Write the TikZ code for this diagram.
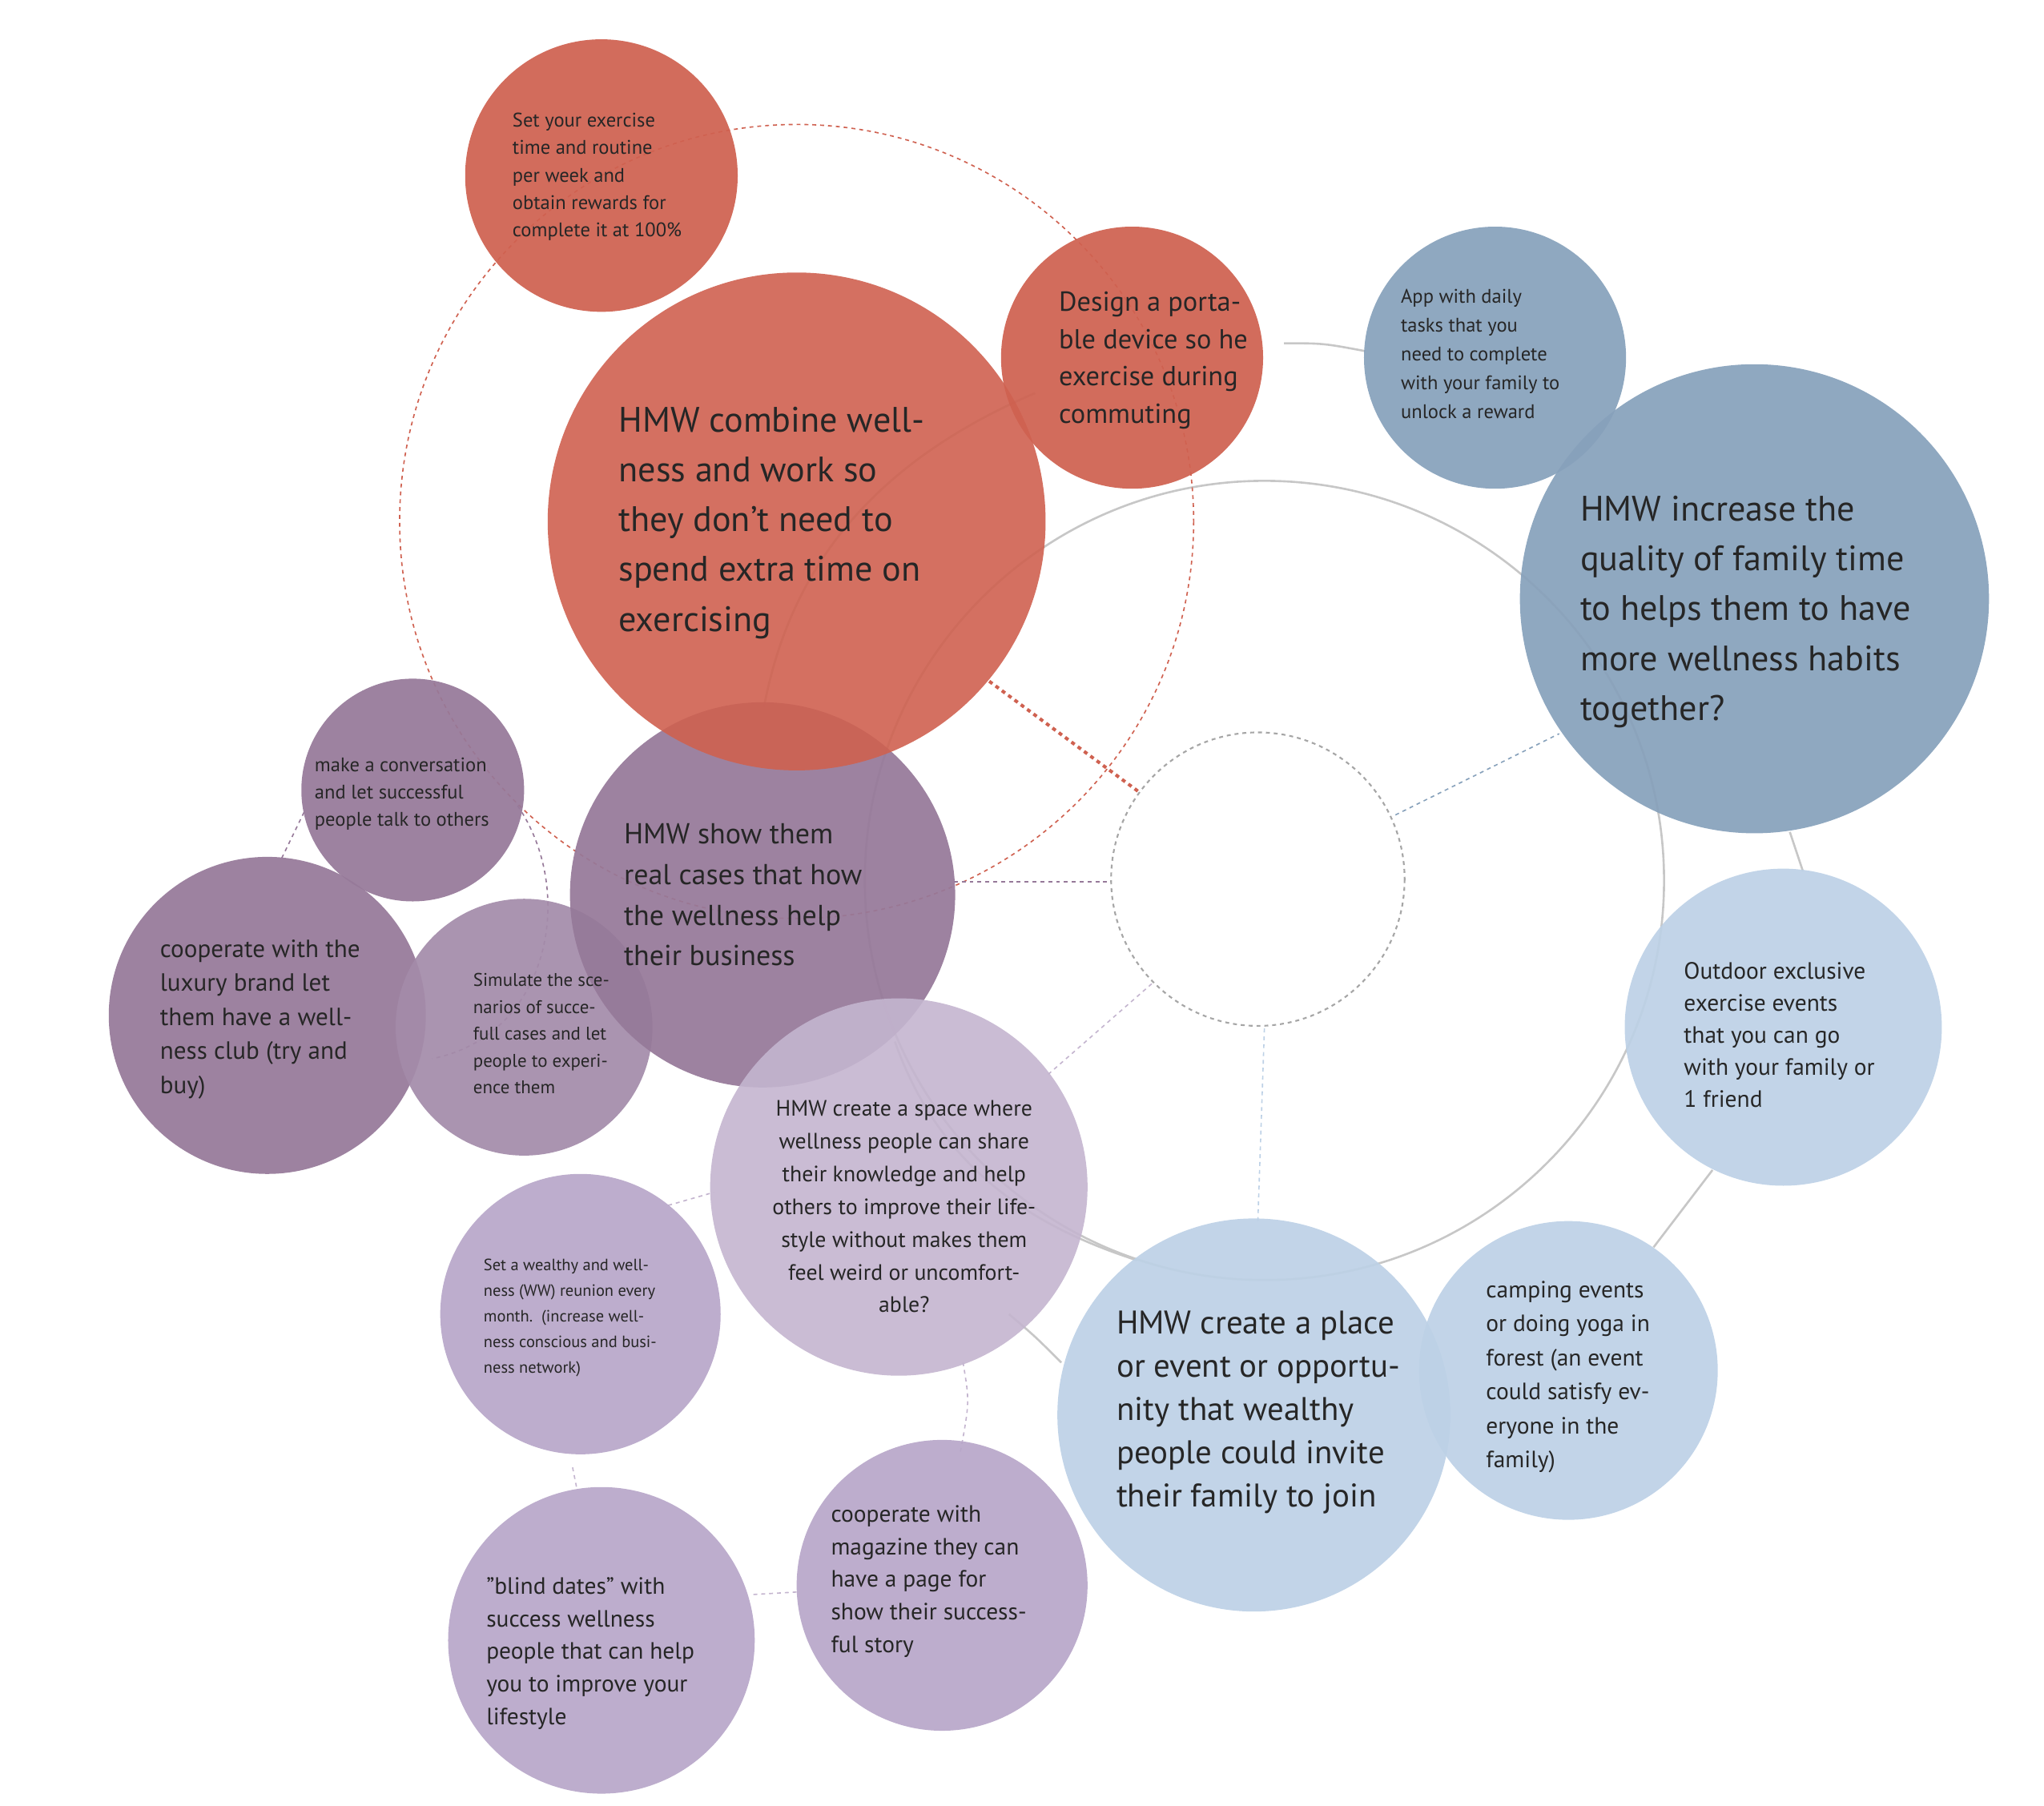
\documentclass[tikz,border=0pt]{standalone}
\usepackage{fontspec}
\setmainfont{PT Sans}
\definecolor{cred}{HTML}{CF6150}
\definecolor{cblue}{HTML}{87A1BB}
\definecolor{clblue}{HTML}{BDD1E6}
\definecolor{cpurp}{HTML}{967999}
\definecolor{csim}{HTML}{A48CAA}
\definecolor{clpurp}{HTML}{C4B5CF}
\definecolor{cwpurp}{HTML}{B8A7C9}
\begin{document}
\begin{tikzpicture}[x=1pt,y=-1pt,
  bub/.style={circle,inner sep=0pt,fill opacity=0.93,draw=none},
  txt/.style={anchor=west,align=left,inner sep=0pt,text=black!85},
  orb/.style={draw=black!22,line width=1.6pt},
  rdash/.style={draw=cred,dashed,line width=1pt},
  gdash/.style={draw=black!35,dashed,line width=1pt}]
\useasboundingbox (0,0) rectangle (1560,1378);
% orbits
\draw[orb] (965,672) circle (305);
\draw[orb] (980,262) .. controls (1010,262) .. (1042,268);
\draw[orb] (1366,635) -- (1376,665);
\draw[orb] (1307,893) -- (1262,952);
\draw[orb] (683,795) .. controls (720,900) and (800,940) .. (868,962);
\draw[orb] (770,1003) .. controls (790,1020) .. (810,1040);
\draw[orb] (790,300) .. controls (650,360) and (600,450) .. (583,540);
\draw[rdash] (608,398) circle (303);
% dashed connectors
\coordinate (cc) at (960,671);
\draw[draw=cred,dashed,line width=2.5pt] (755,520) -- (870,605);
\draw[gdash,draw=cblue] (1065,622) -- (1190,560);
\draw[gdash,draw=cpurp] (728,673) -- (848,673);
\draw[gdash,draw=clpurp] (800,820) -- (880,750);
\draw[gdash,draw=clblue] (965,785) -- (960,932);
\draw[gdash,draw=cpurp] (215,655) -- (232,620);
\draw[gdash,draw=cpurp] (395,615) .. controls (440,680) and (420,790) .. (330,808);
\draw[gdash,draw=clpurp] (510,920) -- (545,910);
\draw[gdash,draw=clpurp] (437,1120) -- (440,1135);
\draw[gdash,draw=clpurp] (575,1217) -- (610,1215);
\draw[gdash,draw=clpurp] (733,1108) .. controls (740,1070) .. (735,1040);
\draw[draw=black!35,dashed,line width=1.3pt] (cc) circle (112);
% circles
\node[bub,fill=cred,minimum size=208] (top) at (459,134) {};
\node[bub,fill=cred,minimum size=200] (des) at (864,273) {};
\node[bub,fill=cblue,minimum size=200] (app) at (1141,273) {};
\node[bub,fill=cblue,minimum size=358] (inc) at (1339,457) {};
\node[bub,fill=clblue,minimum size=242] (out) at (1361,784) {};
\node[bub,fill=clblue,minimum size=228] (camp) at (1197,1046) {};
\node[bub,fill=clblue,minimum size=300] (place) at (957,1080) {};
\node[bub,fill=cpurp,minimum size=170] (conv) at (315,603) {};
\node[bub,fill=cpurp,minimum size=242] (lux) at (204,775) {};
\node[bub,fill=csim,minimum size=196] (sim) at (400,784) {};
\node[bub,fill=cpurp,minimum size=294] (show) at (582,683) {};
\node[bub,fill=cred,minimum size=380,fill opacity=0.9] (main) at (608,398) {};
\node[bub,fill=clpurp,minimum size=288,fill opacity=0.9] (space) at (686,906) {};
\node[bub,fill=cwpurp,minimum size=214] (ww) at (443,1003) {};
\node[bub,fill=cwpurp,minimum size=234] (blind) at (459,1252) {};
\node[bub,fill=cwpurp,minimum size=222] (mag) at (719,1210) {};
% texts
\node[txt,font=\fontsize{15}{21}\selectfont] (ttop) at (391,135) {Set your exercise\\time and routine\\per week and\\obtain rewards for\\complete it at 100\%};
\node[txt,font=\fontsize{27}{38}\selectfont] (tmain) at (472,399) {HMW combine well-\\ness and work so\\they don't need to\\spend extra time on\\exercising};
\node[txt,font=\fontsize{21}{28.5}\selectfont] (tdes) at (808,275) {Design a porta-\\ble device so he\\exercise during\\commuting};
\node[txt,font=\fontsize{15}{22}\selectfont] (tapp) at (1069,270) {App with daily\\tasks that you\\need to complete\\with your family to\\unlock a reward};
\node[txt,font=\fontsize{27}{38}\selectfont] (tinc) at (1206,467) {HMW increase the\\quality of family time\\to helps them to have\\more wellness habits\\together?};
\node[txt,font=\fontsize{18}{24.5}\selectfont] (tout) at (1285,790) {Outdoor exclusive\\exercise events\\that you can go\\with your family or\\1 friend};
\node[txt,font=\fontsize{18}{26}\selectfont] (tcamp) at (1134,1051) {camping events\\or doing yoga in\\forest (an event\\could satisfy ev-\\eryone in the\\family)};
\node[txt,font=\fontsize{25}{33}\selectfont] (tplace) at (852,1078) {HMW create a place\\or event or opportu-\\nity that wealthy\\people could invite\\their family to join};
\node[txt,font=\fontsize{22}{31}\selectfont] (tshow) at (476,683) {HMW show them\\real cases that how\\the wellness help\\their business};
\node[txt,font=\fontsize{15}{21}\selectfont] (tconv) at (240,606) {make a conversation\\and let successful\\people talk to others};
\node[txt,font=\fontsize{19}{26}\selectfont] (tlux) at (122,778) {cooperate with the\\luxury brand let\\them have a well-\\ness club (try and\\buy)};
\node[txt,font=\fontsize{14}{20.5}\selectfont] (tsim) at (361,789) {Simulate the sce-\\narios of succe-\\full cases and let\\people to experi-\\ence them};
\node[inner sep=0pt,align=center,text=black!85,font=\fontsize{17}{25}\selectfont] (tspace) at (690,921) {HMW create a space where\\wellness people can share\\their knowledge and help\\others to improve their life-\\style without makes them\\feel weird or uncomfort-\\able?};
\node[txt,font=\fontsize{12.5}{19.5}\selectfont] (tww) at (369,1006) {Set a wealthy and well-\\ness (WW) reunion every\\month.\ \ (increase well-\\ness conscious and busi-\\ness network)};
\node[txt,font=\fontsize{18}{25}\selectfont] (tblind) at (371,1262) {"blind dates" with\\success wellness\\people that can help\\you to improve your\\lifestyle};
\node[txt,font=\fontsize{18}{25}\selectfont] (tmag) at (634,1207) {cooperate with\\magazine they can\\have a page for\\show their success-\\ful story};
\end{tikzpicture}
\end{document}
